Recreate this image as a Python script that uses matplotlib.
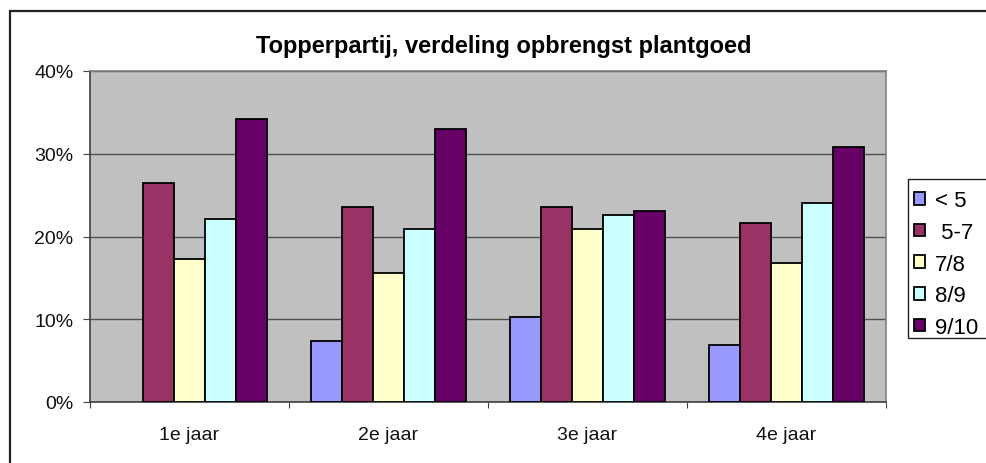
import matplotlib
matplotlib.use("Agg")
import matplotlib.pyplot as plt
from matplotlib.patches import Rectangle
from matplotlib.ticker import FuncFormatter, MultipleLocator
import numpy as np

categories = ["1e jaar", "2e jaar", "3e jaar", "4e jaar"]
series_names = ["< 5", " 5-7", "7/8", "8/9", "9/10"]
lt5 = [0.0, 7.4, 10.3, 6.9]
s5_7 = [26.5, 23.6, 23.6, 21.6]
s7_8 = [17.3, 15.6, 20.9, 16.8]
s8_9 = [22.1, 20.9, 22.6, 24.0]
s9_10 = [34.2, 33.0, 23.1, 30.8]
series = [lt5, s5_7, s7_8, s8_9, s9_10]
colors = ["#9999FF", "#993366", "#FFFFCC", "#CCFFFF", "#660066"]
title = "Topperpartij, verdeling opbrengst plantgoed"

W, H = 986, 464
fig = plt.figure(figsize=(W / 100, H / 100), dpi=100)
fig.patch.set_facecolor("white")

# outer chart frame (extends beyond image on right and bottom)
fig.patches.append(Rectangle((10 / W, -0.1), 1.1, 1 - 12 / H + 0.1,
                             transform=fig.transFigure, fill=False,
                             edgecolor="#222222", linewidth=1.6, zorder=0))

ax = fig.add_axes([90 / W, 1 - 403 / H, (886 - 90) / W, (403 - 72) / H])
ax.set_facecolor("#C0C0C0")

x = np.arange(len(categories))
w = 0.156
handles = []
for i, (vals, c, name) in enumerate(zip(series, colors, series_names)):
    lw = [1.3 if v > 0 else 0 for v in vals]
    ax.bar(x + (i - 2) * w, vals, width=w, color=c, edgecolor="black",
           linewidth=lw, label=name, zorder=3)
    handles.append(Rectangle((0, 0), 1, 1, facecolor=c, edgecolor="black",
                             linewidth=1.3, label=name))

ax.set_xlim(-0.5, len(categories) - 0.5)
ax.set_ylim(0, 40)
ax.yaxis.set_major_locator(MultipleLocator(10))
ax.yaxis.set_major_formatter(FuncFormatter(lambda v, p: f"{v:.0f}%"))
ax.grid(axis="y", color="#505050", linewidth=1.0, zorder=1)
ax.set_axisbelow(True)

ax.set_xticks(np.arange(len(categories) + 1) - 0.5)
ax.set_xticklabels([])
ax.set_xticks(x, minor=True)
ax.set_xticklabels(categories, minor=True)
ax.tick_params(axis="x", which="minor", length=0, pad=17)
ax.tick_params(axis="x", which="major", length=4, color="#404040", direction="out")
ax.tick_params(axis="y", length=5, color="#404040", direction="out", pad=7)

for lab in ax.get_yticklabels() + ax.get_xticklabels(minor=True):
    lab.set_fontfamily(["Liberation Sans", "DejaVu Sans"])
    lab.set_fontsize(14)
    lab.set_color("#111111")

for s in ["top", "right"]:
    ax.spines[s].set_color("#808080")
    ax.spines[s].set_linewidth(1.2)
for s in ["left", "bottom"]:
    ax.spines[s].set_color("#404040")
    ax.spines[s].set_linewidth(1.2)

fig.text((255 + 753) / 2 / W, 1 - 47 / H, title, ha="center", va="center",
         fontsize=17, fontweight="bold",
         family=["Liberation Sans", "DejaVu Sans"])

# legend frame (runs off the right edge like the reference)
fig.patches.append(Rectangle((908 / W, 1 - 339 / H), 0.2, (339 - 180) / H,
                             transform=fig.transFigure, facecolor="white",
                             edgecolor="#222222", linewidth=1.0, zorder=1))
leg = fig.legend(handles=handles, loc="upper left",
                 bbox_to_anchor=(908 / W, 1 - 185 / H),
                 bbox_transform=fig.transFigure, frameon=False,
                 handlelength=0.5, handleheight=0.5, handletextpad=0.45,
                 labelspacing=0.48, borderpad=0.28, borderaxespad=0,
                 prop=dict(family="Liberation Sans", size=16))
leg.set_zorder(5)

fig.savefig("out.png", dpi=100)
